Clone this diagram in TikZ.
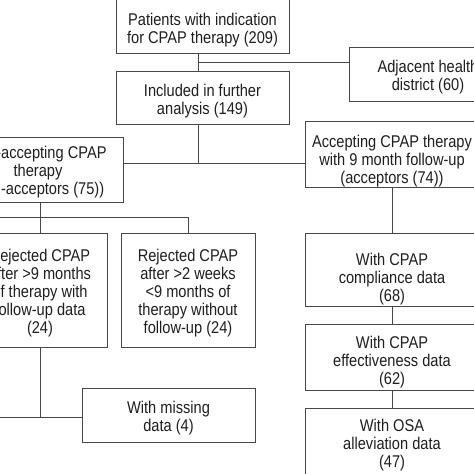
\documentclass[tikz,border=0pt]{standalone}
\usepackage{fontspec}
\setmainfont{Liberation Sans}[FakeStretch=0.86]
\newcommand\dnrule[1]{\rule{0pt}{#1pt}}
\begin{document}
\begin{tikzpicture}[x=1pt,y=-1pt]
\tikzset{
  box/.style={draw=black!72, line width=0.9pt, align=center, inner sep=0pt,
    font=\fontsize{17}{18}\selectfont, text=black!88},
  conn/.style={draw=black!72, line width=0.9pt}
}
\useasboundingbox (0,0) rectangle (474,474);
\clip (0,0) rectangle (474,474);
\fill[white] (0,0) rectangle (474,474);

\node[box, minimum width=173pt, minimum height=55pt] (b1) at (202.5,25.5) {\dnrule{22.4}Patients with indication\\for CPAP therapy (209)};
\node[box, minimum width=173pt, minimum height=53pt] (b2) at (202.5,97.5) {\dnrule{19.4}Included in further\\analysis (149)};
\node[box, minimum width=158pt, minimum height=54pt] (adj) at (428,74) {\dnrule{18.4}Adjacent health\\district (60)};
\node[box, minimum width=170pt, minimum height=65pt] (non) at (38,169.5) {\dnrule{18.4}Non-accepting CPAP\\therapy\\(non-acceptors (75))};
\node[box, minimum width=174pt, minimum height=66pt] (acc) at (392,154) {\dnrule{26.4}Accepting CPAP therapy\\with 9 month follow-up\\(acceptors (74))};
\node[box, minimum width=134pt, minimum height=114pt] (rej1) at (40,290) {\dnrule{19.4}Rejected CPAP\\after >9 months\\of therapy with\\follow-up data\\(24)};
\node[box, minimum width=134pt, minimum height=114pt] (rej2) at (188,290) {\dnrule{19.4}Rejected CPAP\\after >2 weeks\\<9 months of\\therapy without\\follow-up (24)};
\node[box, minimum width=173pt, minimum height=54pt] (miss) at (168.5,415) {\dnrule{18.4}With missing\\data (4)};
\node[box, minimum width=174pt, minimum height=73pt] (comp) at (392,269.5) {\dnrule{31.4}With CPAP\\compliance data\\(68)};
\node[box, minimum width=174pt, minimum height=66pt] (eff) at (392,357) {\dnrule{22.4}With CPAP\\effectiveness data\\(62)};
\node[box, minimum width=174pt, minimum height=72pt] (osa) at (392,444) {\dnrule{15.4}With OSA\\alleviation data\\(47)};

\coordinate (j1) at (198,62);
\coordinate (j2) at (198,163);
\coordinate (j3) at (40,217);
\coordinate (l1) at (-30,217);
\coordinate (l2) at (-30,417);

\draw[conn] (b1.south -| j1) -- (b2.north -| j1);
\draw[conn] (j1) -- (j1 -| adj.west);
\draw[conn] (b2.south -| j2) -- (j2);
\draw[conn] (j2 -| non.east) -- (j2 -| acc.west);
\draw[conn] (non.south -| j3) -- (rej1.north -| j3);
\draw[conn] (l1) -- (j3 -| rej2.north) -- (rej2.north);
\draw[conn] (rej1.south -| j3) -- (j3 |- l2);
\draw[conn] (l2) -- (l2 -| miss.west);
\draw[conn] (acc.south) -- (comp.north);
\draw[conn] (comp.south) -- (eff.north);
\draw[conn] (eff.south) -- (osa.north);
\end{tikzpicture}
\end{document}
